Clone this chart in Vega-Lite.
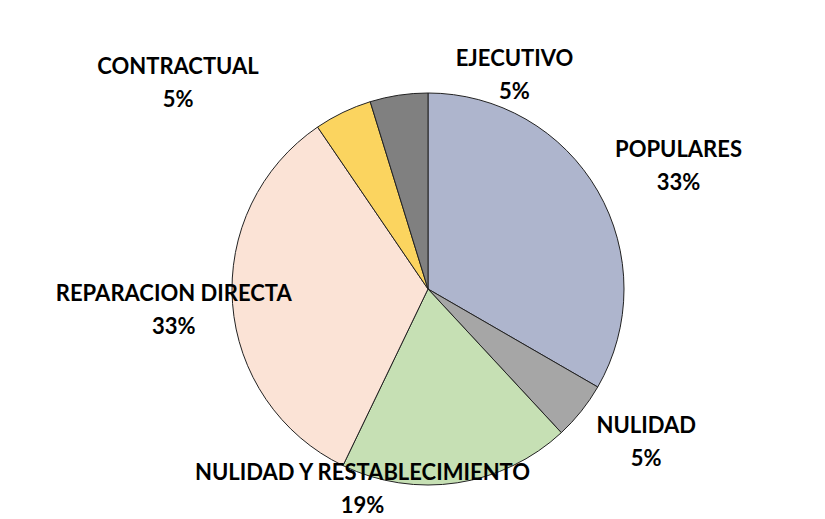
{
  "$schema": "https://vega.github.io/schema/vega-lite/v6.json",
  "width": 825,
  "height": 519,
  "autosize": {"type": "fit", "contains": "padding"},
  "padding": {"left": 31, "top": 13, "right": 0, "bottom": 0},
  "background": "white",
  "config": {"view": {"stroke": null}},
  "data": {
    "values": [
      {"tipo": "POPULARES", "valor": 7, "orden": 1, "etiqueta": "POPULARES\n33%"},
      {"tipo": "NULIDAD", "valor": 1, "orden": 2, "etiqueta": "NULIDAD\n5%"},
      {"tipo": "NULIDAD Y RESTABLECIMIENTO", "valor": 4, "orden": 3, "etiqueta": "NULIDAD Y RESTABLECIMIENTO\n19%"},
      {"tipo": "REPARACION DIRECTA", "valor": 7, "orden": 4, "etiqueta": "REPARACION DIRECTA\n33%"},
      {"tipo": "CONTRACTUAL", "valor": 1, "orden": 5, "etiqueta": "CONTRACTUAL\n5%"},
      {"tipo": "EJECUTIVO", "valor": 1, "orden": 6, "etiqueta": "EJECUTIVO\n5%"}
    ]
  },
  "encoding": {
    "theta": {"field": "valor", "type": "quantitative", "stack": true},
    "order": {"field": "orden", "type": "quantitative"}
  },
  "layer": [
    {
      "mark": {"type": "arc", "outerRadius": 196, "stroke": "#222222", "strokeWidth": 1},
      "encoding": {
        "color": {
          "field": "tipo",
          "type": "nominal",
          "scale": {
            "domain": ["POPULARES", "NULIDAD", "NULIDAD Y RESTABLECIMIENTO", "REPARACION DIRECTA", "CONTRACTUAL", "EJECUTIVO"],
            "range": ["#aeb5cd", "#a6a6a6", "#c6e0b4", "#fbe3d6", "#fbd45f", "#808080"]
          },
          "legend": null
        }
      }
    },
    {
      "mark": {"type": "text", "radius": 265, "dx": 21, "dy": -7, "font": "Lato", "fontWeight": "bold", "fontSize": 22, "lineBreak": "\n", "lineHeight": 33, "align": "center", "baseline": "middle", "color": "#000000"},
      "encoding": {"text": {"condition": {"test": "datum.tipo === 'POPULARES'", "field": "etiqueta"}, "value": ""}}
    },
    {
      "mark": {"type": "text", "radius": 265, "dx": 11, "dy": -28, "font": "Lato", "fontWeight": "bold", "fontSize": 22, "lineBreak": "\n", "lineHeight": 33, "align": "center", "baseline": "middle", "color": "#000000"},
      "encoding": {"text": {"condition": {"test": "datum.tipo === 'NULIDAD'", "field": "etiqueta"}, "value": ""}}
    },
    {
      "mark": {"type": "text", "radius": 265, "dx": -105, "dy": -78, "font": "Lato", "fontWeight": "bold", "fontSize": 22, "lineBreak": "\n", "lineHeight": 33, "align": "center", "baseline": "middle", "color": "#000000"},
      "encoding": {"text": {"condition": {"test": "datum.tipo === 'NULIDAD Y RESTABLECIMIENTO'", "field": "etiqueta"}, "value": ""}}
    },
    {
      "mark": {"type": "text", "radius": 265, "dx": 10, "dy": -15, "font": "Lato", "fontWeight": "bold", "fontSize": 22, "lineBreak": "\n", "lineHeight": 33, "align": "center", "baseline": "middle", "color": "#000000"},
      "encoding": {"text": {"condition": {"test": "datum.tipo === 'REPARACION DIRECTA'", "field": "etiqueta"}, "value": ""}}
    },
    {
      "mark": {"type": "text", "radius": 265, "dx": -135, "dy": 17, "font": "Lato", "fontWeight": "bold", "fontSize": 22, "lineBreak": "\n", "lineHeight": 33, "align": "center", "baseline": "middle", "color": "#000000"},
      "encoding": {"text": {"condition": {"test": "datum.tipo === 'CONTRACTUAL'", "field": "etiqueta"}, "value": ""}}
    },
    {
      "mark": {"type": "text", "radius": 265, "dx": 126, "dy": 32, "font": "Lato", "fontWeight": "bold", "fontSize": 22, "lineBreak": "\n", "lineHeight": 33, "align": "center", "baseline": "middle", "color": "#000000"},
      "encoding": {"text": {"condition": {"test": "datum.tipo === 'EJECUTIVO'", "field": "etiqueta"}, "value": ""}}
    }
  ]
}
